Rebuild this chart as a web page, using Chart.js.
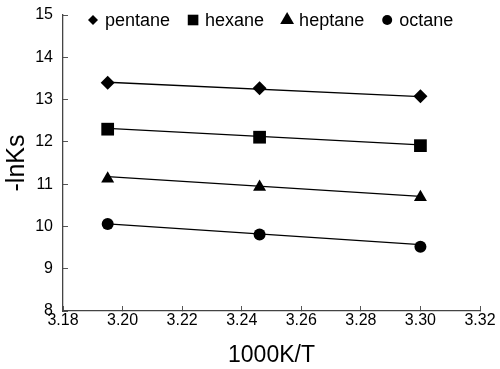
<!DOCTYPE html>
<html>
<head>
<meta charset="utf-8">
<script src="https://cdn.jsdelivr.net/npm/chart.js@4"></script>
<style>
  body { margin: 0; background: #fff; }
</style>
</head>
<body>
<canvas id="canvas" width="500" height="369"></canvas>
<script>
// measured temperatures (1000K/T)
var xValues = [3.195, 3.246, 3.300];

// -lnKs for each alkane
var pentane = [13.40, 13.27, 13.08];
var hexane  = [12.30, 12.11, 11.91];
var heptane = [11.13, 10.93, 10.69];
var octane  = [10.06, 9.81, 9.52];

// end points of the straight lines drawn through each series
var lineX = [3.195, 3.300];
var pentaneLine = [13.41, 13.07];
var hexaneLine  = [12.32, 11.93];
var heptaneLine = [11.18, 10.71];
var octaneLine  = [10.06, 9.57];

var xTicks = [3.18, 3.20, 3.22, 3.24, 3.26, 3.28, 3.30, 3.32];

var fontFamily = 'Liberation Sans, Arial, sans-serif';

function toPoints(xs, ys) {
    var pts = [];
    for (var i = 0; i < xs.length; i++) {
        pts.push({x: xs[i], y: ys[i]});
    }
    return pts;
}

function markerSet(label, ys, style, radius, legendRadius) {
    return {
        label: label,
        data: toPoints(xValues, ys),
        showLine: false,
        pointStyle: style,
        pointRadius: radius,
        pointHoverRadius: radius,
        legendRadius: legendRadius,
        backgroundColor: '#000',
        borderColor: '#000',
        borderWidth: 0,
        order: 1
    };
}

function lineSet(ys) {
    return {
        label: '',
        data: toPoints(lineX, ys),
        showLine: true,
        pointRadius: 0,
        borderColor: '#000',
        borderWidth: 1.3,
        fill: false,
        order: 2
    };
}

var chartData = {
    datasets: [
        markerSet('pentane', pentane, 'rectRot', 7, 5),
        markerSet('hexane', hexane, 'rect', 9, 7.5),
        markerSet('heptane', heptane, 'triangle', 7.5, 8),
        markerSet('octane', octane, 'circle', 6, 5),
        lineSet(pentaneLine),
        lineSet(hexaneLine),
        lineSet(heptaneLine),
        lineSet(octaneLine)
    ]
};

// legend sits inside the plot, in one row along the top
var insideLegend = {
    id: 'insideLegend',
    afterDraw: function(chart) {
        var ctx = chart.ctx;
        var area = chart.chartArea;
        var x = area.left + 30;
        var y = area.top + 5;
        ctx.save();
        ctx.font = '18px ' + fontFamily;
        ctx.fillStyle = '#000';
        ctx.textBaseline = 'middle';
        chart.data.datasets.forEach(function(ds) {
            if (!ds.label) return;
            Chart.helpers.drawPoint(ctx, {
                pointStyle: ds.pointStyle,
                radius: ds.legendRadius,
                rotation: 0,
                borderWidth: 0
            }, x, y);
            ctx.fillStyle = '#000';
            ctx.fillText(ds.label, x + 12, y + 1);
            x += 12 + ctx.measureText(ds.label).width + 23;
        });
        ctx.restore();
    }
};

var chartOptions = {
    responsive: false,
    animation: false,
    layout: {padding: 0},
    plugins: {
        tooltip: {enabled: false},
        legend: {display: false}
    },
    scales: {
        x: {
            type: 'linear',
            min: 3.18,
            max: 3.32,
            afterBuildTicks: function(axis) {
                axis.ticks = xTicks.map(function(v) { return {value: v}; });
            },
            afterFit: function(axis) {
                axis.height = 58;
                axis.paddingRight = 20;
                axis.paddingLeft = 0;
            },
            ticks: {
                color: '#000',
                font: {family: fontFamily, size: 16},
                padding: 5,
                maxRotation: 0,
                callback: function(v) { return v.toFixed(2); }
            },
            grid: {drawOnChartArea: false, drawTicks: true, tickLength: -5, color: '#555'},
            border: {color: '#444', width: 1.3},
            title: {
                display: true,
                text: '1000K/T',
                color: '#000',
                font: {family: fontFamily, size: 23},
                padding: {top: 3, bottom: 0}
            }
        },
        y: {
            min: 8,
            max: 15,
            afterFit: function(axis) {
                axis.width = 63;
                axis.paddingTop = 15;
                axis.paddingBottom = 0;
            },
            ticks: {
                stepSize: 1,
                color: '#000',
                font: {family: fontFamily, size: 16},
                padding: 15
            },
            grid: {drawOnChartArea: false, drawTicks: true, tickLength: -5, color: '#555'},
            border: {color: '#444', width: 1.3},
            title: {
                display: true,
                text: '-lnKs',
                color: '#000',
                font: {family: fontFamily, size: 25},
                padding: {top: 2, bottom: 0}
            }
        }
    }
};

window.onload = function() {
    var ctx = document.getElementById('canvas').getContext('2d');
    window.myChart = new Chart(ctx, {
        type: 'scatter',
        data: chartData,
        options: chartOptions,
        plugins: [insideLegend]
    });
};
</script>
</body>
</html>
